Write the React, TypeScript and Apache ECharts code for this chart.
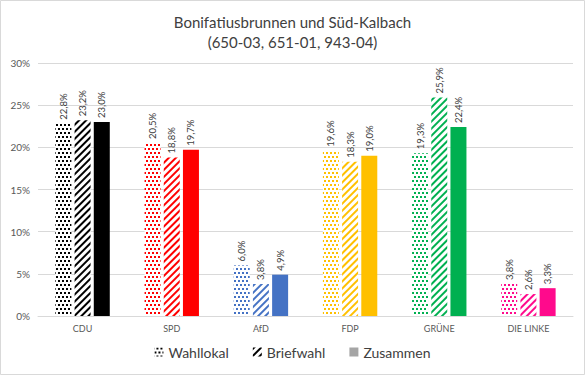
import React, { useEffect, useRef } from "react";
import * as echarts from "echarts";

const categories = ["CDU", "SPD", "AfD", "FDP", "GRÜNE", "DIE LINKE"];
const partyColors = ["#000000", "#ff0000", "#4472c4", "#ffc000", "#00b050", "#ff0a8c"];
const wahllokal = [22.8, 20.5, 6.0, 19.6, 19.3, 3.8];
const briefwahl = [23.2, 18.8, 3.8, 18.3, 25.9, 2.6];
const zusammen = [23.0, 19.7, 4.9, 19.0, 22.4, 3.3];
const yTicks = [0, 5, 10, 15, 20, 25, 30];
const seriesNames = ["Wahllokal", "Briefwahl", "Zusammen"];

const FONT = "Lato, 'Open Sans', sans-serif";

const dotDecal = (color: string) => ({
  symbol: "rect",
  symbolSize: 1,
  dashArrayX: [[2, 2], [0, 2, 2, 0]],
  dashArrayY: [2, 1.5],
  rotation: 0,
  color,
  backgroundColor: "#ffffff",
});

const hatchDecal = (color: string) => ({
  symbol: "rect",
  symbolSize: 1,
  dashArrayX: [1, 0],
  dashArrayY: [2, 3],
  rotation: -Math.PI / 4,
  color,
  backgroundColor: "#ffffff",
});

const fmt = (p: any) => String(Number(p.value).toFixed(1)).replace(".", ",") + "%";

export default function App() {
  const ref = useRef<HTMLDivElement>(null);
  useEffect(() => {
    document.body.style.margin = "0";
    const chart = echarts.init(ref.current!, null, { renderer: "svg" });
    const labelCfg = {
      show: true,
      position: "top",
      rotate: 90,
      align: "left",
      verticalAlign: "middle",
      distance: 4,
      fontSize: 9.5,
      color: "#404040",
      fontFamily: FONT,
      formatter: fmt,
    };
    const option: any = {
      animation: false,
      backgroundColor: "#ffffff",
      title: {
        text: "Bonifatiusbrunnen und Süd-Kalbach\n(650-03, 651-01, 943-04)",
        left: "center",
        top: 7,
        textStyle: {
          fontSize: 15,
          fontWeight: "normal",
          color: "#404040",
          fontFamily: FONT,
          lineHeight: 20,
        },
      },
      legend: {
        bottom: 11,
        left: "center",
        itemWidth: 9,
        itemHeight: 9,
        itemGap: 24,
        textStyle: { fontSize: 14, color: "#404040", fontFamily: FONT },
        data: [
          { name: "Wahllokal", icon: "rect", itemStyle: { color: "#ffffff", decal: dotDecal("#000000") } },
          { name: "Briefwahl", icon: "rect", itemStyle: { color: "#ffffff", decal: hatchDecal("#000000") } },
          { name: "Zusammen", icon: "rect", itemStyle: { color: "#a5a5a5" } },
        ],
      },
      grid: { left: 38, right: 12, top: 63, bottom: 59, containLabel: false },
      xAxis: {
        type: "category",
        data: categories,
        axisLine: { lineStyle: { color: "#d9d9d9" } },
        axisTick: { show: false },
        axisLabel: { fontSize: 9, color: "#595959", fontFamily: FONT, margin: 8 },
      },
      yAxis: {
        type: "value",
        min: yTicks[0],
        max: yTicks[yTicks.length - 1],
        interval: 5,
        axisLine: { show: false },
        axisTick: { show: false },
        splitLine: { lineStyle: { color: "#d9d9d9" } },
        axisLabel: { fontSize: 10, color: "#595959", fontFamily: FONT, formatter: "{value}%", margin: 8 },
      },
      graphic: [
        {
          type: "rect",
          shape: { x: 0.5, y: 0.5, width: 584, height: 374 },
          style: { fill: "none", stroke: "#d9d9d9", lineWidth: 1 },
          silent: true,
        },
      ],
      series: [
        {
          name: seriesNames[0],
          type: "bar",
          barWidth: 16,
          barGap: "20%",
          itemStyle: { color: "#ffffff", decal: dotDecal("#000000") },
          label: labelCfg,
          data: wahllokal.map((v, i) => ({
            value: v,
            itemStyle: { color: "#ffffff", decal: dotDecal(partyColors[i]) },
          })),
        },
        {
          name: seriesNames[1],
          type: "bar",
          barWidth: 16,
          barGap: "20%",
          itemStyle: { color: "#ffffff", decal: hatchDecal("#000000") },
          label: labelCfg,
          data: briefwahl.map((v, i) => ({
            value: v,
            itemStyle: { color: "#ffffff", decal: hatchDecal(partyColors[i]) },
          })),
        },
        {
          name: seriesNames[2],
          type: "bar",
          barWidth: 16,
          barGap: "20%",
          itemStyle: { color: "#a5a5a5" },
          label: labelCfg,
          data: zusammen.map((v, i) => ({
            value: v,
            itemStyle: { color: partyColors[i] },
          })),
        },
      ],
    };
    chart.setOption(option);
    return () => chart.dispose();
  }, []);
  return (
    <div
      ref={ref}
      style={{ position: "absolute", left: 0, top: 0, width: 585, height: 375 }}
    />
  );
}
